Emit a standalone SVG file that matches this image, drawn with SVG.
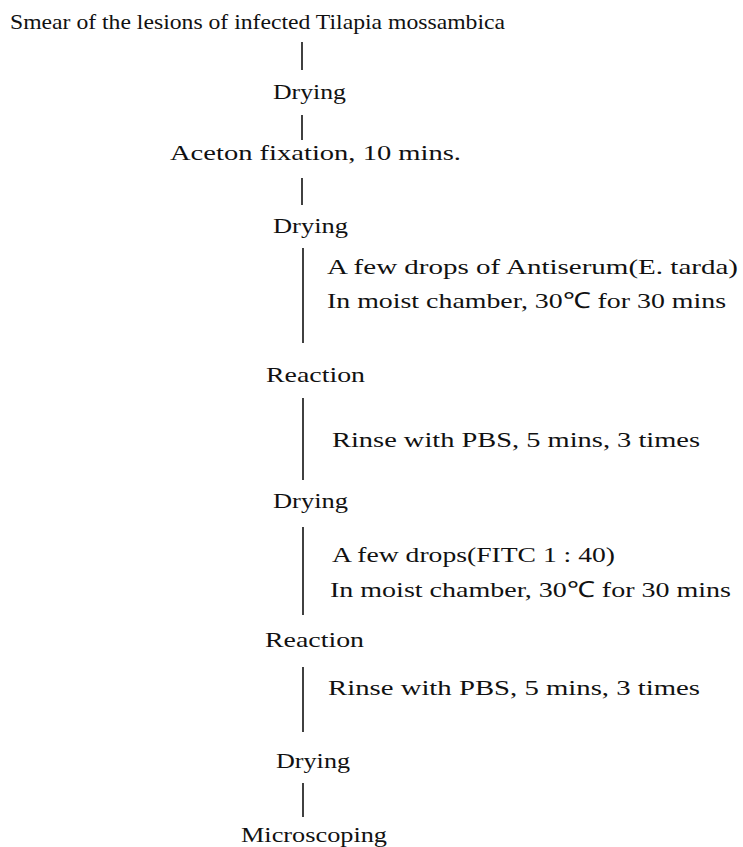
<svg xmlns="http://www.w3.org/2000/svg" width="743" height="847" viewBox="0 0 743 847">
<style>
text { font-family: "Liberation Serif", "Times New Roman", serif; font-size: 22px; fill: #111; }
.c line { stroke: #111; stroke-width: 1.6; }
</style>
<rect width="743" height="847" fill="#fff"/>
<g id="n-smear"><text x="10" y="29" textLength="495" lengthAdjust="spacingAndGlyphs">Smear of the lesions of infected Tilapia mossambica</text></g>
<g id="n-drying1"><text x="273" y="99" textLength="73" lengthAdjust="spacingAndGlyphs">Drying</text></g>
<g id="n-aceton"><text x="170" y="160" textLength="291" lengthAdjust="spacingAndGlyphs">Aceton fixation, 10 mins.</text></g>
<g id="n-drying2"><text x="273" y="233" textLength="75" lengthAdjust="spacingAndGlyphs">Drying</text></g>
<g id="l-antiserum">
<text x="327" y="274" textLength="411" lengthAdjust="spacingAndGlyphs">A few drops of Antiserum(E. tarda)</text>
<text x="327" y="308" textLength="399" lengthAdjust="spacingAndGlyphs">In moist chamber, 30℃ for 30 mins</text>
</g>
<g id="n-reaction1"><text x="266" y="382" textLength="99" lengthAdjust="spacingAndGlyphs">Reaction</text></g>
<g id="l-rinse1"><text x="332" y="447" textLength="368" lengthAdjust="spacingAndGlyphs">Rinse with PBS, 5 mins, 3 times</text></g>
<g id="n-drying3"><text x="273" y="508" textLength="75" lengthAdjust="spacingAndGlyphs">Drying</text></g>
<g id="l-fitc">
<text x="332" y="562" textLength="283" lengthAdjust="spacingAndGlyphs">A few drops(FITC 1 : 40)</text>
<text x="330" y="597" textLength="401" lengthAdjust="spacingAndGlyphs">In moist chamber, 30℃ for 30 mins</text>
</g>
<g id="n-reaction2"><text x="265" y="647" textLength="99" lengthAdjust="spacingAndGlyphs">Reaction</text></g>
<g id="l-rinse2"><text x="328" y="695" textLength="372" lengthAdjust="spacingAndGlyphs">Rinse with PBS, 5 mins, 3 times</text></g>
<g id="n-drying4"><text x="276" y="768" textLength="74" lengthAdjust="spacingAndGlyphs">Drying</text></g>
<g id="n-microscoping"><text x="241" y="842" textLength="146" lengthAdjust="spacingAndGlyphs">Microscoping</text></g>
<g id="connectors" class="c">
<line x1="302" y1="42" x2="302" y2="70"/>
<line x1="302" y1="115" x2="302" y2="140"/>
<line x1="302" y1="178" x2="302" y2="205"/>
<line x1="303" y1="248" x2="303" y2="343"/>
<line x1="303" y1="398" x2="303" y2="480"/>
<line x1="303" y1="527" x2="303" y2="615"/>
<line x1="303" y1="667" x2="303" y2="732"/>
<line x1="303" y1="783" x2="303" y2="817"/>
</g>
</svg>
